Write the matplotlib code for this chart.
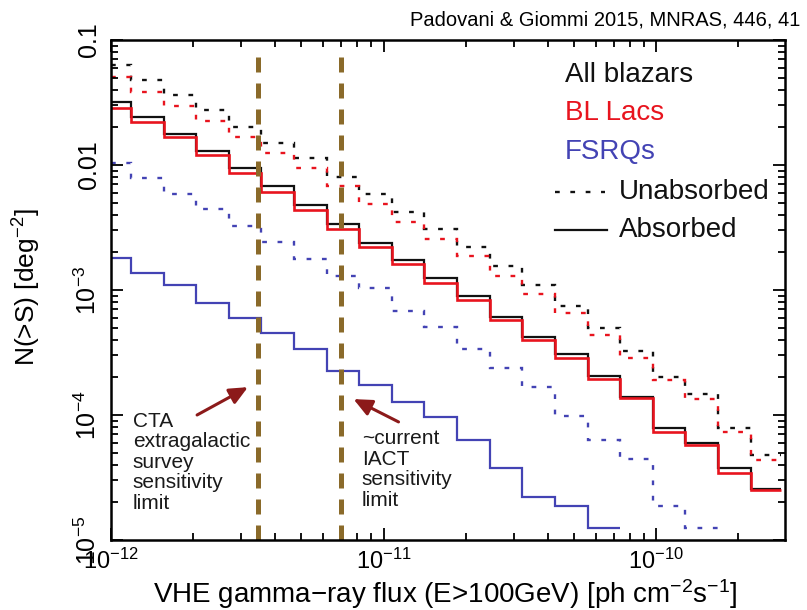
import matplotlib
matplotlib.use("Agg")
import matplotlib.pyplot as plt
from matplotlib.ticker import FixedLocator, FixedFormatter, LogLocator, NullFormatter

plt.rcParams['font.family'] = ['Liberation Sans', 'DejaVu Sans']
plt.rcParams['mathtext.fontset'] = 'custom'
plt.rcParams['mathtext.rm'] = 'Liberation Sans'
plt.rcParams['mathtext.it'] = 'Liberation Sans:italic'
plt.rcParams['mathtext.bf'] = 'Liberation Sans:bold'

# flux bin edges (ph cm^-2 s^-1); first entry is the plot's left edge
FLUX_EDGES = [1.0e-12, 1.18e-12, 1.56e-12, 2.05e-12, 2.70e-12, 3.56e-12, 4.69e-12,
              6.18e-12, 8.14e-12, 1.07e-11, 1.41e-11, 1.86e-11, 2.45e-11, 3.23e-11,
              4.26e-11, 5.61e-11, 7.39e-11, 9.73e-11, 1.28e-10, 1.69e-10, 2.23e-10,
              2.87e-10]

# N(>S) per deg^2
all_abs = [0.0318, 0.0241, 0.0177, 0.0130, 0.00942, 0.00679, 0.00479, 0.00337,
           0.00239, 0.00174, 0.00125, 8.95e-4, 6.11e-4, 4.23e-4, 3.08e-4, 2.05e-4,
           1.40e-4, 7.83e-5, 5.94e-5, 3.75e-5, 2.55e-5]
bll_abs = [0.0287, 0.0222, 0.0167, 0.0120, 0.00868, 0.00611, 0.00437, 0.00306,
           0.00220, 0.00161, 0.00114, 8.3e-4, 5.75e-4, 3.98e-4, 2.86e-4, 1.94e-4,
           1.37e-4, 7.35e-5, 5.75e-5, 3.44e-5, 2.51e-5]
fsrq_abs = [1.79e-3, 1.36e-3, 1.10e-3, 7.91e-4, 5.94e-4, 4.55e-4, 3.37e-4, 2.26e-4,
            1.74e-4, 1.28e-4, 9.59e-5, 6.31e-5, 3.75e-5, 2.22e-5, 1.87e-5, 1.24e-5]

all_unabs = [0.0631, 0.0479, 0.0363, 0.0275, 0.0202, 0.0151, 0.0113, 0.00806,
             0.00583, 0.00423, 0.00306, 0.00222, 0.00156, 0.00110, 7.45e-4, 4.94e-4,
             3.27e-4, 2.02e-4, 1.47e-4, 7.91e-5, 4.79e-5]
bll_unabs = [0.0503, 0.0386, 0.0296, 0.0226, 0.0167, 0.0125, 0.00942, 0.00679,
             0.00488, 0.00352, 0.00255, 0.00187, 0.00129, 9.29e-4, 6.51e-4, 4.37e-4,
             2.84e-4, 1.91e-4, 1.34e-4, 7.35e-5, 4.37e-5]
fsrq_unabs = [0.0103, 0.00783, 0.00586, 0.00442, 0.00325, 0.00243, 0.00176, 0.00129,
              0.00104, 6.83e-4, 5.08e-4, 3.36e-4, 2.37e-4, 1.67e-4, 9.82e-5, 6.31e-5,
              4.43e-5, 1.87e-5, 1.24e-5]

# sensitivity limits
cta_limit = 3.45e-12
iact_limit = 7.0e-12
limit_top = 0.076

x_ticks = [1e-12, 1e-11, 1e-10]
x_ticklabels = ['$10^{-12}$', '$10^{-11}$', '$10^{-10}$']
y_ticks = [1e-5, 1e-4, 1e-3, 1e-2, 1e-1]
y_ticklabels = ['$10^{-5}$', '$10^{-4}$', '$10^{-3}$', '0.01', '0.1']

BLACK = '#111111'
RED = '#e8141e'
BLUE = '#4343b4'
BROWN = '#8a6a2a'
DARKRED = '#8c1a1a'
DOT = (0, (2, 4.5))

fig = plt.figure(figsize=(8.07, 6.10), dpi=100)
ax = fig.add_axes([0.1375, 0.1148, 0.8352, 0.8196])
ax.set_xscale('log')
ax.set_yscale('log')
ax.set_xlim(1e-12, 2.97e-10)
ax.set_ylim(1e-5, 0.1)


def steps(vals, color, ls, lw):
    ax.stairs(vals, FLUX_EDGES[:len(vals) + 1], baseline=None, fill=False,
              color=color, linestyle=ls, lw=lw)


steps(all_unabs, BLACK, DOT, 1.7)
steps(bll_unabs, RED, DOT, 1.7)
steps(fsrq_unabs, BLUE, DOT, 1.7)
steps(all_abs, BLACK, '-', 1.6)
steps(bll_abs, RED, '-', 1.9)
steps(fsrq_abs, BLUE, '-', 1.6)

for xl in (cta_limit, iact_limit):
    ax.plot([xl, xl], [1e-5, limit_top], color=BROWN, lw=3.6,
            linestyle=(0, (3, 2.2)), solid_capstyle='butt')

# arrows to the two limits
arrow = dict(arrowstyle='-|>,head_length=1.1,head_width=0.5', lw=2.2,
             color=DARKRED, shrinkA=0, shrinkB=0, mutation_scale=10)
ax.annotate('', xy=(3.18e-12, 1.67e-4), xytext=(2.07e-12, 1.0e-4), arrowprops=arrow)
ax.annotate('', xy=(7.76e-12, 1.34e-4), xytext=(1.135e-11, 8.8e-5), arrowprops=arrow)

ax.text(0.0326, 0.155, 'CTA\nextragalactic\nsurvey\nsensitivity\nlimit',
        transform=ax.transAxes, fontsize=15, ha='left', va='center',
        linespacing=1.1, color='#1a1a1a')
ax.text(0.372, 0.141, '~current\nIACT\nsensitivity\nlimit',
        transform=ax.transAxes, fontsize=15, ha='left', va='center',
        linespacing=1.1, color='#1a1a1a')

# key
ax.text(0.6736, 0.93, 'All blazars', transform=ax.transAxes, fontsize=20,
        color=BLACK, va='center')
ax.text(0.6736, 0.854, 'BL Lacs', transform=ax.transAxes, fontsize=20,
        color=RED, va='center')
ax.text(0.6736, 0.776, 'FSRQs', transform=ax.transAxes, fontsize=20,
        color=BLUE, va='center')
ax.plot([0.6588, 0.733], [0.696, 0.696], transform=ax.transAxes, color=BLACK,
        lw=1.7, linestyle=DOT)
ax.plot([0.6588, 0.736], [0.62, 0.62], transform=ax.transAxes, color=BLACK, lw=1.6)
ax.text(0.7537, 0.696, 'Unabsorbed', transform=ax.transAxes, fontsize=20,
        color=BLACK, va='center')
ax.text(0.7537, 0.62, 'Absorbed', transform=ax.transAxes, fontsize=20,
        color=BLACK, va='center')

# axes styling
for sp in ax.spines.values():
    sp.set_linewidth(1.8)
ax.xaxis.set_major_locator(FixedLocator(x_ticks))
ax.xaxis.set_major_formatter(FixedFormatter(x_ticklabels))
ax.yaxis.set_major_locator(FixedLocator(y_ticks))
ax.yaxis.set_major_formatter(FixedFormatter(y_ticklabels))
ax.xaxis.set_minor_locator(LogLocator(base=10, subs=range(2, 10), numticks=20))
ax.yaxis.set_minor_locator(LogLocator(base=10, subs=range(2, 10), numticks=20))
ax.xaxis.set_minor_formatter(NullFormatter())
ax.yaxis.set_minor_formatter(NullFormatter())
ax.tick_params(which='both', direction='in', top=True, right=True, width=1.3)
ax.tick_params(which='major', length=8.5)
ax.tick_params(which='minor', length=5)
ax.tick_params(axis='x', labelsize=17, pad=6)
ax.tick_params(axis='y', labelsize=18, pad=7)
for lab in ax.get_yticklabels():
    lab.set_rotation(90)
    lab.set_va('center')

ax.set_xlabel('VHE gamma\u2212ray flux (E>100GeV) [ph cm$^{-2}$s$^{-1}$]', fontsize=20)
ax.set_ylabel('N(>S) [deg$^{-2}$]', fontsize=19)
ax.xaxis.set_label_coords(0.4955, -0.075)
ax.yaxis.set_label_coords(-0.101, 0.506)

fig.text(0.992, 0.967, 'Padovani & Giommi 2015, MNRAS, 446, 41', fontsize=14.5,
         ha='right', va='center')

fig.savefig('out.png', dpi=100)
